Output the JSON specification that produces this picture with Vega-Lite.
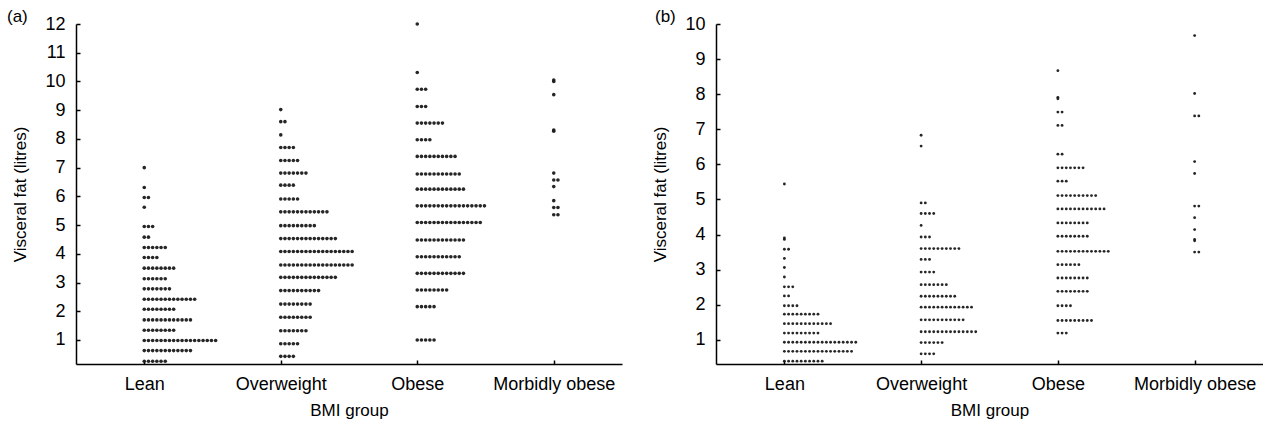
{
  "$schema": "https://vega.github.io/schema/vega-lite/v6.json",
  "description": "Visceral fat by BMI group, two dot plots",
  "padding": {"left": 7, "top": 8, "right": 0, "bottom": 12},
  "bounds": "flush",
  "spacing": 94,
  "config": {
    "view": {"stroke": null},
    "axis": {
      "grid": false,
      "domainColor": "#000",
      "domainWidth": 1.5,
      "tickColor": "#000",
      "tickWidth": 1.5,
      "tickSize": -4,
      "labelFont": "Liberation Sans",
      "labelFontSize": 18,
      "labelColor": "#000",
      "titleFont": "Liberation Sans",
      "titleFontSize": 17,
      "titleFontWeight": "normal",
      "titleColor": "#000"
    },
    "title": {"font": "Liberation Sans", "fontSize": 17, "fontWeight": "normal", "color": "#000"}
  },
  "datasets": {
    "a": [
      {"bmi":"Lean","fat":7},
      {"bmi":"Lean","fat":6.31},
      {"bmi":"Lean","fat":5.96},{"bmi":"Lean","fat":5.96},
      {"bmi":"Lean","fat":5.62},
      {"bmi":"Lean","fat":4.95},{"bmi":"Lean","fat":4.95},{"bmi":"Lean","fat":4.95},
      {"bmi":"Lean","fat":4.58},{"bmi":"Lean","fat":4.58},
      {"bmi":"Lean","fat":4.22},{"bmi":"Lean","fat":4.22},{"bmi":"Lean","fat":4.22},{"bmi":"Lean","fat":4.22},{"bmi":"Lean","fat":4.22},{"bmi":"Lean","fat":4.22},
      {"bmi":"Lean","fat":3.87},{"bmi":"Lean","fat":3.87},{"bmi":"Lean","fat":3.87},{"bmi":"Lean","fat":3.87},
      {"bmi":"Lean","fat":3.5},{"bmi":"Lean","fat":3.5},{"bmi":"Lean","fat":3.5},{"bmi":"Lean","fat":3.5},{"bmi":"Lean","fat":3.5},{"bmi":"Lean","fat":3.5},{"bmi":"Lean","fat":3.5},{"bmi":"Lean","fat":3.5},
      {"bmi":"Lean","fat":3.13},{"bmi":"Lean","fat":3.13},{"bmi":"Lean","fat":3.13},{"bmi":"Lean","fat":3.13},{"bmi":"Lean","fat":3.13},{"bmi":"Lean","fat":3.13},
      {"bmi":"Lean","fat":2.78},{"bmi":"Lean","fat":2.78},{"bmi":"Lean","fat":2.78},{"bmi":"Lean","fat":2.78},{"bmi":"Lean","fat":2.78},{"bmi":"Lean","fat":2.78},{"bmi":"Lean","fat":2.78},
      {"bmi":"Lean","fat":2.42},{"bmi":"Lean","fat":2.42},{"bmi":"Lean","fat":2.42},{"bmi":"Lean","fat":2.42},{"bmi":"Lean","fat":2.42},{"bmi":"Lean","fat":2.42},{"bmi":"Lean","fat":2.42},{"bmi":"Lean","fat":2.42},{"bmi":"Lean","fat":2.42},{"bmi":"Lean","fat":2.42},{"bmi":"Lean","fat":2.42},{"bmi":"Lean","fat":2.42},{"bmi":"Lean","fat":2.42},
      {"bmi":"Lean","fat":2.07},{"bmi":"Lean","fat":2.07},{"bmi":"Lean","fat":2.07},{"bmi":"Lean","fat":2.07},{"bmi":"Lean","fat":2.07},{"bmi":"Lean","fat":2.07},{"bmi":"Lean","fat":2.07},{"bmi":"Lean","fat":2.07},
      {"bmi":"Lean","fat":1.7},{"bmi":"Lean","fat":1.7},{"bmi":"Lean","fat":1.7},{"bmi":"Lean","fat":1.7},{"bmi":"Lean","fat":1.7},{"bmi":"Lean","fat":1.7},{"bmi":"Lean","fat":1.7},{"bmi":"Lean","fat":1.7},{"bmi":"Lean","fat":1.7},{"bmi":"Lean","fat":1.7},{"bmi":"Lean","fat":1.7},{"bmi":"Lean","fat":1.7},
      {"bmi":"Lean","fat":1.34},{"bmi":"Lean","fat":1.34},{"bmi":"Lean","fat":1.34},{"bmi":"Lean","fat":1.34},{"bmi":"Lean","fat":1.34},{"bmi":"Lean","fat":1.34},{"bmi":"Lean","fat":1.34},{"bmi":"Lean","fat":1.34},
      {"bmi":"Lean","fat":0.98},{"bmi":"Lean","fat":0.98},{"bmi":"Lean","fat":0.98},{"bmi":"Lean","fat":0.98},{"bmi":"Lean","fat":0.98},{"bmi":"Lean","fat":0.98},{"bmi":"Lean","fat":0.98},{"bmi":"Lean","fat":0.98},{"bmi":"Lean","fat":0.98},{"bmi":"Lean","fat":0.98},{"bmi":"Lean","fat":0.98},{"bmi":"Lean","fat":0.98},{"bmi":"Lean","fat":0.98},{"bmi":"Lean","fat":0.98},{"bmi":"Lean","fat":0.98},{"bmi":"Lean","fat":0.98},{"bmi":"Lean","fat":0.98},{"bmi":"Lean","fat":0.98},
      {"bmi":"Lean","fat":0.63},{"bmi":"Lean","fat":0.63},{"bmi":"Lean","fat":0.63},{"bmi":"Lean","fat":0.63},{"bmi":"Lean","fat":0.63},{"bmi":"Lean","fat":0.63},{"bmi":"Lean","fat":0.63},{"bmi":"Lean","fat":0.63},{"bmi":"Lean","fat":0.63},{"bmi":"Lean","fat":0.63},{"bmi":"Lean","fat":0.63},{"bmi":"Lean","fat":0.63},
      {"bmi":"Lean","fat":0.26},{"bmi":"Lean","fat":0.26},{"bmi":"Lean","fat":0.26},{"bmi":"Lean","fat":0.26},{"bmi":"Lean","fat":0.26},{"bmi":"Lean","fat":0.26},
      {"bmi":"Overweight","fat":9.02},
      {"bmi":"Overweight","fat":8.6},{"bmi":"Overweight","fat":8.6},
      {"bmi":"Overweight","fat":8.14},
      {"bmi":"Overweight","fat":7.7},{"bmi":"Overweight","fat":7.7},{"bmi":"Overweight","fat":7.7},{"bmi":"Overweight","fat":7.7},
      {"bmi":"Overweight","fat":7.25},{"bmi":"Overweight","fat":7.25},{"bmi":"Overweight","fat":7.25},{"bmi":"Overweight","fat":7.25},{"bmi":"Overweight","fat":7.25},
      {"bmi":"Overweight","fat":6.81},{"bmi":"Overweight","fat":6.81},{"bmi":"Overweight","fat":6.81},{"bmi":"Overweight","fat":6.81},{"bmi":"Overweight","fat":6.81},{"bmi":"Overweight","fat":6.81},{"bmi":"Overweight","fat":6.81},
      {"bmi":"Overweight","fat":6.39},{"bmi":"Overweight","fat":6.39},{"bmi":"Overweight","fat":6.39},{"bmi":"Overweight","fat":6.39},
      {"bmi":"Overweight","fat":5.91},{"bmi":"Overweight","fat":5.91},{"bmi":"Overweight","fat":5.91},{"bmi":"Overweight","fat":5.91},{"bmi":"Overweight","fat":5.91},
      {"bmi":"Overweight","fat":5.46},{"bmi":"Overweight","fat":5.46},{"bmi":"Overweight","fat":5.46},{"bmi":"Overweight","fat":5.46},{"bmi":"Overweight","fat":5.46},{"bmi":"Overweight","fat":5.46},{"bmi":"Overweight","fat":5.46},{"bmi":"Overweight","fat":5.46},{"bmi":"Overweight","fat":5.46},{"bmi":"Overweight","fat":5.46},{"bmi":"Overweight","fat":5.46},{"bmi":"Overweight","fat":5.46},
      {"bmi":"Overweight","fat":4.98},{"bmi":"Overweight","fat":4.98},{"bmi":"Overweight","fat":4.98},{"bmi":"Overweight","fat":4.98},{"bmi":"Overweight","fat":4.98},{"bmi":"Overweight","fat":4.98},{"bmi":"Overweight","fat":4.98},{"bmi":"Overweight","fat":4.98},{"bmi":"Overweight","fat":4.98},
      {"bmi":"Overweight","fat":4.53},{"bmi":"Overweight","fat":4.53},{"bmi":"Overweight","fat":4.53},{"bmi":"Overweight","fat":4.53},{"bmi":"Overweight","fat":4.53},{"bmi":"Overweight","fat":4.53},{"bmi":"Overweight","fat":4.53},{"bmi":"Overweight","fat":4.53},{"bmi":"Overweight","fat":4.53},{"bmi":"Overweight","fat":4.53},{"bmi":"Overweight","fat":4.53},{"bmi":"Overweight","fat":4.53},{"bmi":"Overweight","fat":4.53},{"bmi":"Overweight","fat":4.53},
      {"bmi":"Overweight","fat":4.08},{"bmi":"Overweight","fat":4.08},{"bmi":"Overweight","fat":4.08},{"bmi":"Overweight","fat":4.08},{"bmi":"Overweight","fat":4.08},{"bmi":"Overweight","fat":4.08},{"bmi":"Overweight","fat":4.08},{"bmi":"Overweight","fat":4.08},{"bmi":"Overweight","fat":4.08},{"bmi":"Overweight","fat":4.08},{"bmi":"Overweight","fat":4.08},{"bmi":"Overweight","fat":4.08},{"bmi":"Overweight","fat":4.08},{"bmi":"Overweight","fat":4.08},{"bmi":"Overweight","fat":4.08},{"bmi":"Overweight","fat":4.08},{"bmi":"Overweight","fat":4.08},{"bmi":"Overweight","fat":4.08},
      {"bmi":"Overweight","fat":3.61},{"bmi":"Overweight","fat":3.61},{"bmi":"Overweight","fat":3.61},{"bmi":"Overweight","fat":3.61},{"bmi":"Overweight","fat":3.61},{"bmi":"Overweight","fat":3.61},{"bmi":"Overweight","fat":3.61},{"bmi":"Overweight","fat":3.61},{"bmi":"Overweight","fat":3.61},{"bmi":"Overweight","fat":3.61},{"bmi":"Overweight","fat":3.61},{"bmi":"Overweight","fat":3.61},{"bmi":"Overweight","fat":3.61},{"bmi":"Overweight","fat":3.61},{"bmi":"Overweight","fat":3.61},{"bmi":"Overweight","fat":3.61},{"bmi":"Overweight","fat":3.61},{"bmi":"Overweight","fat":3.61},
      {"bmi":"Overweight","fat":3.18},{"bmi":"Overweight","fat":3.18},{"bmi":"Overweight","fat":3.18},{"bmi":"Overweight","fat":3.18},{"bmi":"Overweight","fat":3.18},{"bmi":"Overweight","fat":3.18},{"bmi":"Overweight","fat":3.18},{"bmi":"Overweight","fat":3.18},{"bmi":"Overweight","fat":3.18},{"bmi":"Overweight","fat":3.18},{"bmi":"Overweight","fat":3.18},{"bmi":"Overweight","fat":3.18},{"bmi":"Overweight","fat":3.18},{"bmi":"Overweight","fat":3.18},
      {"bmi":"Overweight","fat":2.72},{"bmi":"Overweight","fat":2.72},{"bmi":"Overweight","fat":2.72},{"bmi":"Overweight","fat":2.72},{"bmi":"Overweight","fat":2.72},{"bmi":"Overweight","fat":2.72},{"bmi":"Overweight","fat":2.72},{"bmi":"Overweight","fat":2.72},{"bmi":"Overweight","fat":2.72},{"bmi":"Overweight","fat":2.72},
      {"bmi":"Overweight","fat":2.25},{"bmi":"Overweight","fat":2.25},{"bmi":"Overweight","fat":2.25},{"bmi":"Overweight","fat":2.25},{"bmi":"Overweight","fat":2.25},{"bmi":"Overweight","fat":2.25},{"bmi":"Overweight","fat":2.25},{"bmi":"Overweight","fat":2.25},
      {"bmi":"Overweight","fat":1.79},{"bmi":"Overweight","fat":1.79},{"bmi":"Overweight","fat":1.79},{"bmi":"Overweight","fat":1.79},{"bmi":"Overweight","fat":1.79},{"bmi":"Overweight","fat":1.79},{"bmi":"Overweight","fat":1.79},{"bmi":"Overweight","fat":1.79},
      {"bmi":"Overweight","fat":1.32},{"bmi":"Overweight","fat":1.32},{"bmi":"Overweight","fat":1.32},{"bmi":"Overweight","fat":1.32},{"bmi":"Overweight","fat":1.32},{"bmi":"Overweight","fat":1.32},{"bmi":"Overweight","fat":1.32},
      {"bmi":"Overweight","fat":0.87},{"bmi":"Overweight","fat":0.87},{"bmi":"Overweight","fat":0.87},{"bmi":"Overweight","fat":0.87},{"bmi":"Overweight","fat":0.87},
      {"bmi":"Overweight","fat":0.43},{"bmi":"Overweight","fat":0.43},{"bmi":"Overweight","fat":0.43},{"bmi":"Overweight","fat":0.43},
      {"bmi":"Obese","fat":12},
      {"bmi":"Obese","fat":10.31},
      {"bmi":"Obese","fat":9.73},{"bmi":"Obese","fat":9.73},{"bmi":"Obese","fat":9.73},
      {"bmi":"Obese","fat":9.13},{"bmi":"Obese","fat":9.13},{"bmi":"Obese","fat":9.13},
      {"bmi":"Obese","fat":8.55},{"bmi":"Obese","fat":8.55},{"bmi":"Obese","fat":8.55},{"bmi":"Obese","fat":8.55},{"bmi":"Obese","fat":8.55},{"bmi":"Obese","fat":8.55},{"bmi":"Obese","fat":8.55},
      {"bmi":"Obese","fat":7.97},{"bmi":"Obese","fat":7.97},{"bmi":"Obese","fat":7.97},{"bmi":"Obese","fat":7.97},
      {"bmi":"Obese","fat":7.39},{"bmi":"Obese","fat":7.39},{"bmi":"Obese","fat":7.39},{"bmi":"Obese","fat":7.39},{"bmi":"Obese","fat":7.39},{"bmi":"Obese","fat":7.39},{"bmi":"Obese","fat":7.39},{"bmi":"Obese","fat":7.39},{"bmi":"Obese","fat":7.39},{"bmi":"Obese","fat":7.39},
      {"bmi":"Obese","fat":6.78},{"bmi":"Obese","fat":6.78},{"bmi":"Obese","fat":6.78},{"bmi":"Obese","fat":6.78},{"bmi":"Obese","fat":6.78},{"bmi":"Obese","fat":6.78},{"bmi":"Obese","fat":6.78},{"bmi":"Obese","fat":6.78},{"bmi":"Obese","fat":6.78},{"bmi":"Obese","fat":6.78},{"bmi":"Obese","fat":6.78},
      {"bmi":"Obese","fat":6.25},{"bmi":"Obese","fat":6.25},{"bmi":"Obese","fat":6.25},{"bmi":"Obese","fat":6.25},{"bmi":"Obese","fat":6.25},{"bmi":"Obese","fat":6.25},{"bmi":"Obese","fat":6.25},{"bmi":"Obese","fat":6.25},{"bmi":"Obese","fat":6.25},{"bmi":"Obese","fat":6.25},{"bmi":"Obese","fat":6.25},{"bmi":"Obese","fat":6.25},
      {"bmi":"Obese","fat":5.67},{"bmi":"Obese","fat":5.67},{"bmi":"Obese","fat":5.67},{"bmi":"Obese","fat":5.67},{"bmi":"Obese","fat":5.67},{"bmi":"Obese","fat":5.67},{"bmi":"Obese","fat":5.67},{"bmi":"Obese","fat":5.67},{"bmi":"Obese","fat":5.67},{"bmi":"Obese","fat":5.67},{"bmi":"Obese","fat":5.67},{"bmi":"Obese","fat":5.67},{"bmi":"Obese","fat":5.67},{"bmi":"Obese","fat":5.67},{"bmi":"Obese","fat":5.67},{"bmi":"Obese","fat":5.67},{"bmi":"Obese","fat":5.67},
      {"bmi":"Obese","fat":5.09},{"bmi":"Obese","fat":5.09},{"bmi":"Obese","fat":5.09},{"bmi":"Obese","fat":5.09},{"bmi":"Obese","fat":5.09},{"bmi":"Obese","fat":5.09},{"bmi":"Obese","fat":5.09},{"bmi":"Obese","fat":5.09},{"bmi":"Obese","fat":5.09},{"bmi":"Obese","fat":5.09},{"bmi":"Obese","fat":5.09},{"bmi":"Obese","fat":5.09},{"bmi":"Obese","fat":5.09},{"bmi":"Obese","fat":5.09},{"bmi":"Obese","fat":5.09},{"bmi":"Obese","fat":5.09},
      {"bmi":"Obese","fat":4.48},{"bmi":"Obese","fat":4.48},{"bmi":"Obese","fat":4.48},{"bmi":"Obese","fat":4.48},{"bmi":"Obese","fat":4.48},{"bmi":"Obese","fat":4.48},{"bmi":"Obese","fat":4.48},{"bmi":"Obese","fat":4.48},{"bmi":"Obese","fat":4.48},{"bmi":"Obese","fat":4.48},{"bmi":"Obese","fat":4.48},{"bmi":"Obese","fat":4.48},
      {"bmi":"Obese","fat":3.9},{"bmi":"Obese","fat":3.9},{"bmi":"Obese","fat":3.9},{"bmi":"Obese","fat":3.9},{"bmi":"Obese","fat":3.9},{"bmi":"Obese","fat":3.9},{"bmi":"Obese","fat":3.9},{"bmi":"Obese","fat":3.9},{"bmi":"Obese","fat":3.9},{"bmi":"Obese","fat":3.9},{"bmi":"Obese","fat":3.9},
      {"bmi":"Obese","fat":3.32},{"bmi":"Obese","fat":3.32},{"bmi":"Obese","fat":3.32},{"bmi":"Obese","fat":3.32},{"bmi":"Obese","fat":3.32},{"bmi":"Obese","fat":3.32},{"bmi":"Obese","fat":3.32},{"bmi":"Obese","fat":3.32},{"bmi":"Obese","fat":3.32},{"bmi":"Obese","fat":3.32},{"bmi":"Obese","fat":3.32},{"bmi":"Obese","fat":3.32},
      {"bmi":"Obese","fat":2.74},{"bmi":"Obese","fat":2.74},{"bmi":"Obese","fat":2.74},{"bmi":"Obese","fat":2.74},{"bmi":"Obese","fat":2.74},{"bmi":"Obese","fat":2.74},{"bmi":"Obese","fat":2.74},{"bmi":"Obese","fat":2.74},
      {"bmi":"Obese","fat":2.16},{"bmi":"Obese","fat":2.16},{"bmi":"Obese","fat":2.16},{"bmi":"Obese","fat":2.16},{"bmi":"Obese","fat":2.16},
      {"bmi":"Obese","fat":1},{"bmi":"Obese","fat":1},{"bmi":"Obese","fat":1},{"bmi":"Obese","fat":1},{"bmi":"Obese","fat":1},
      {"bmi":"Morbidly obese","fat":10},{"bmi":"Morbidly obese","fat":10.05},
      {"bmi":"Morbidly obese","fat":9.54},
      {"bmi":"Morbidly obese","fat":8.27},{"bmi":"Morbidly obese","fat":8.31},
      {"bmi":"Morbidly obese","fat":6.81},
      {"bmi":"Morbidly obese","fat":6.57},{"bmi":"Morbidly obese","fat":6.57},
      {"bmi":"Morbidly obese","fat":6.34},
      {"bmi":"Morbidly obese","fat":5.85},
      {"bmi":"Morbidly obese","fat":5.61},{"bmi":"Morbidly obese","fat":5.61},
      {"bmi":"Morbidly obese","fat":5.36},{"bmi":"Morbidly obese","fat":5.36}
    ],
    "b": [
      {"bmi":"Lean","fat":5.44},
      {"bmi":"Lean","fat":3.86},{"bmi":"Lean","fat":3.9},
      {"bmi":"Lean","fat":3.58},{"bmi":"Lean","fat":3.58},
      {"bmi":"Lean","fat":3.32},
      {"bmi":"Lean","fat":3.06},
      {"bmi":"Lean","fat":2.79},
      {"bmi":"Lean","fat":2.51},{"bmi":"Lean","fat":2.51},{"bmi":"Lean","fat":2.51},
      {"bmi":"Lean","fat":2.25},{"bmi":"Lean","fat":2.25},
      {"bmi":"Lean","fat":1.97},{"bmi":"Lean","fat":1.97},{"bmi":"Lean","fat":1.97},{"bmi":"Lean","fat":1.97},
      {"bmi":"Lean","fat":1.73},{"bmi":"Lean","fat":1.73},{"bmi":"Lean","fat":1.73},{"bmi":"Lean","fat":1.73},{"bmi":"Lean","fat":1.73},{"bmi":"Lean","fat":1.73},{"bmi":"Lean","fat":1.73},{"bmi":"Lean","fat":1.73},{"bmi":"Lean","fat":1.73},
      {"bmi":"Lean","fat":1.46},{"bmi":"Lean","fat":1.46},{"bmi":"Lean","fat":1.46},{"bmi":"Lean","fat":1.46},{"bmi":"Lean","fat":1.46},{"bmi":"Lean","fat":1.46},{"bmi":"Lean","fat":1.46},{"bmi":"Lean","fat":1.46},{"bmi":"Lean","fat":1.46},{"bmi":"Lean","fat":1.46},{"bmi":"Lean","fat":1.46},{"bmi":"Lean","fat":1.46},
      {"bmi":"Lean","fat":1.19},{"bmi":"Lean","fat":1.19},{"bmi":"Lean","fat":1.19},{"bmi":"Lean","fat":1.19},{"bmi":"Lean","fat":1.19},{"bmi":"Lean","fat":1.19},{"bmi":"Lean","fat":1.19},{"bmi":"Lean","fat":1.19},{"bmi":"Lean","fat":1.19},
      {"bmi":"Lean","fat":0.93},{"bmi":"Lean","fat":0.93},{"bmi":"Lean","fat":0.93},{"bmi":"Lean","fat":0.93},{"bmi":"Lean","fat":0.93},{"bmi":"Lean","fat":0.93},{"bmi":"Lean","fat":0.93},{"bmi":"Lean","fat":0.93},{"bmi":"Lean","fat":0.93},{"bmi":"Lean","fat":0.93},{"bmi":"Lean","fat":0.93},{"bmi":"Lean","fat":0.93},{"bmi":"Lean","fat":0.93},{"bmi":"Lean","fat":0.93},{"bmi":"Lean","fat":0.93},{"bmi":"Lean","fat":0.93},{"bmi":"Lean","fat":0.93},{"bmi":"Lean","fat":0.93},
      {"bmi":"Lean","fat":0.67},{"bmi":"Lean","fat":0.67},{"bmi":"Lean","fat":0.67},{"bmi":"Lean","fat":0.67},{"bmi":"Lean","fat":0.67},{"bmi":"Lean","fat":0.67},{"bmi":"Lean","fat":0.67},{"bmi":"Lean","fat":0.67},{"bmi":"Lean","fat":0.67},{"bmi":"Lean","fat":0.67},{"bmi":"Lean","fat":0.67},{"bmi":"Lean","fat":0.67},{"bmi":"Lean","fat":0.67},{"bmi":"Lean","fat":0.67},{"bmi":"Lean","fat":0.67},{"bmi":"Lean","fat":0.67},{"bmi":"Lean","fat":0.67},
      {"bmi":"Lean","fat":0.39},{"bmi":"Lean","fat":0.39},{"bmi":"Lean","fat":0.39},{"bmi":"Lean","fat":0.39},{"bmi":"Lean","fat":0.39},{"bmi":"Lean","fat":0.39},{"bmi":"Lean","fat":0.39},{"bmi":"Lean","fat":0.39},{"bmi":"Lean","fat":0.39},{"bmi":"Lean","fat":0.39},
      {"bmi":"Overweight","fat":6.83},
      {"bmi":"Overweight","fat":6.52},
      {"bmi":"Overweight","fat":4.9},{"bmi":"Overweight","fat":4.9},
      {"bmi":"Overweight","fat":4.6},{"bmi":"Overweight","fat":4.6},{"bmi":"Overweight","fat":4.6},{"bmi":"Overweight","fat":4.6},
      {"bmi":"Overweight","fat":4.26},
      {"bmi":"Overweight","fat":3.93},{"bmi":"Overweight","fat":3.93},{"bmi":"Overweight","fat":3.93},
      {"bmi":"Overweight","fat":3.6},{"bmi":"Overweight","fat":3.6},{"bmi":"Overweight","fat":3.6},{"bmi":"Overweight","fat":3.6},{"bmi":"Overweight","fat":3.6},{"bmi":"Overweight","fat":3.6},{"bmi":"Overweight","fat":3.6},{"bmi":"Overweight","fat":3.6},{"bmi":"Overweight","fat":3.6},{"bmi":"Overweight","fat":3.6},
      {"bmi":"Overweight","fat":3.29},{"bmi":"Overweight","fat":3.29},{"bmi":"Overweight","fat":3.29},
      {"bmi":"Overweight","fat":2.93},{"bmi":"Overweight","fat":2.93},{"bmi":"Overweight","fat":2.93},{"bmi":"Overweight","fat":2.93},
      {"bmi":"Overweight","fat":2.57},{"bmi":"Overweight","fat":2.57},{"bmi":"Overweight","fat":2.57},{"bmi":"Overweight","fat":2.57},{"bmi":"Overweight","fat":2.57},{"bmi":"Overweight","fat":2.57},{"bmi":"Overweight","fat":2.57},
      {"bmi":"Overweight","fat":2.24},{"bmi":"Overweight","fat":2.24},{"bmi":"Overweight","fat":2.24},{"bmi":"Overweight","fat":2.24},{"bmi":"Overweight","fat":2.24},{"bmi":"Overweight","fat":2.24},{"bmi":"Overweight","fat":2.24},{"bmi":"Overweight","fat":2.24},{"bmi":"Overweight","fat":2.24},
      {"bmi":"Overweight","fat":1.93},{"bmi":"Overweight","fat":1.93},{"bmi":"Overweight","fat":1.93},{"bmi":"Overweight","fat":1.93},{"bmi":"Overweight","fat":1.93},{"bmi":"Overweight","fat":1.93},{"bmi":"Overweight","fat":1.93},{"bmi":"Overweight","fat":1.93},{"bmi":"Overweight","fat":1.93},{"bmi":"Overweight","fat":1.93},{"bmi":"Overweight","fat":1.93},{"bmi":"Overweight","fat":1.93},{"bmi":"Overweight","fat":1.93},
      {"bmi":"Overweight","fat":1.57},{"bmi":"Overweight","fat":1.57},{"bmi":"Overweight","fat":1.57},{"bmi":"Overweight","fat":1.57},{"bmi":"Overweight","fat":1.57},{"bmi":"Overweight","fat":1.57},{"bmi":"Overweight","fat":1.57},{"bmi":"Overweight","fat":1.57},{"bmi":"Overweight","fat":1.57},{"bmi":"Overweight","fat":1.57},{"bmi":"Overweight","fat":1.57},
      {"bmi":"Overweight","fat":1.23},{"bmi":"Overweight","fat":1.23},{"bmi":"Overweight","fat":1.23},{"bmi":"Overweight","fat":1.23},{"bmi":"Overweight","fat":1.23},{"bmi":"Overweight","fat":1.23},{"bmi":"Overweight","fat":1.23},{"bmi":"Overweight","fat":1.23},{"bmi":"Overweight","fat":1.23},{"bmi":"Overweight","fat":1.23},{"bmi":"Overweight","fat":1.23},{"bmi":"Overweight","fat":1.23},{"bmi":"Overweight","fat":1.23},{"bmi":"Overweight","fat":1.23},
      {"bmi":"Overweight","fat":0.92},{"bmi":"Overweight","fat":0.92},{"bmi":"Overweight","fat":0.92},{"bmi":"Overweight","fat":0.92},{"bmi":"Overweight","fat":0.92},{"bmi":"Overweight","fat":0.92},
      {"bmi":"Overweight","fat":0.6},{"bmi":"Overweight","fat":0.6},{"bmi":"Overweight","fat":0.6},{"bmi":"Overweight","fat":0.6},
      {"bmi":"Obese","fat":8.67},
      {"bmi":"Obese","fat":7.87},{"bmi":"Obese","fat":7.91},
      {"bmi":"Obese","fat":7.49},{"bmi":"Obese","fat":7.49},
      {"bmi":"Obese","fat":7.11},{"bmi":"Obese","fat":7.11},
      {"bmi":"Obese","fat":6.29},{"bmi":"Obese","fat":6.29},
      {"bmi":"Obese","fat":5.9},{"bmi":"Obese","fat":5.9},{"bmi":"Obese","fat":5.9},{"bmi":"Obese","fat":5.9},{"bmi":"Obese","fat":5.9},{"bmi":"Obese","fat":5.9},{"bmi":"Obese","fat":5.9},
      {"bmi":"Obese","fat":5.52},{"bmi":"Obese","fat":5.52},{"bmi":"Obese","fat":5.52},
      {"bmi":"Obese","fat":5.11},{"bmi":"Obese","fat":5.11},{"bmi":"Obese","fat":5.11},{"bmi":"Obese","fat":5.11},{"bmi":"Obese","fat":5.11},{"bmi":"Obese","fat":5.11},{"bmi":"Obese","fat":5.11},{"bmi":"Obese","fat":5.11},{"bmi":"Obese","fat":5.11},{"bmi":"Obese","fat":5.11},
      {"bmi":"Obese","fat":4.73},{"bmi":"Obese","fat":4.73},{"bmi":"Obese","fat":4.73},{"bmi":"Obese","fat":4.73},{"bmi":"Obese","fat":4.73},{"bmi":"Obese","fat":4.73},{"bmi":"Obese","fat":4.73},{"bmi":"Obese","fat":4.73},{"bmi":"Obese","fat":4.73},{"bmi":"Obese","fat":4.73},{"bmi":"Obese","fat":4.73},{"bmi":"Obese","fat":4.73},
      {"bmi":"Obese","fat":4.33},{"bmi":"Obese","fat":4.33},{"bmi":"Obese","fat":4.33},{"bmi":"Obese","fat":4.33},{"bmi":"Obese","fat":4.33},{"bmi":"Obese","fat":4.33},{"bmi":"Obese","fat":4.33},{"bmi":"Obese","fat":4.33},
      {"bmi":"Obese","fat":3.95},{"bmi":"Obese","fat":3.95},{"bmi":"Obese","fat":3.95},{"bmi":"Obese","fat":3.95},{"bmi":"Obese","fat":3.95},{"bmi":"Obese","fat":3.95},{"bmi":"Obese","fat":3.95},{"bmi":"Obese","fat":3.95},
      {"bmi":"Obese","fat":3.52},{"bmi":"Obese","fat":3.52},{"bmi":"Obese","fat":3.52},{"bmi":"Obese","fat":3.52},{"bmi":"Obese","fat":3.52},{"bmi":"Obese","fat":3.52},{"bmi":"Obese","fat":3.52},{"bmi":"Obese","fat":3.52},{"bmi":"Obese","fat":3.52},{"bmi":"Obese","fat":3.52},{"bmi":"Obese","fat":3.52},{"bmi":"Obese","fat":3.52},{"bmi":"Obese","fat":3.52},
      {"bmi":"Obese","fat":3.14},{"bmi":"Obese","fat":3.14},{"bmi":"Obese","fat":3.14},{"bmi":"Obese","fat":3.14},{"bmi":"Obese","fat":3.14},{"bmi":"Obese","fat":3.14},
      {"bmi":"Obese","fat":2.76},{"bmi":"Obese","fat":2.76},{"bmi":"Obese","fat":2.76},{"bmi":"Obese","fat":2.76},{"bmi":"Obese","fat":2.76},{"bmi":"Obese","fat":2.76},{"bmi":"Obese","fat":2.76},{"bmi":"Obese","fat":2.76},
      {"bmi":"Obese","fat":2.38},{"bmi":"Obese","fat":2.38},{"bmi":"Obese","fat":2.38},{"bmi":"Obese","fat":2.38},{"bmi":"Obese","fat":2.38},{"bmi":"Obese","fat":2.38},{"bmi":"Obese","fat":2.38},{"bmi":"Obese","fat":2.38},
      {"bmi":"Obese","fat":1.97},{"bmi":"Obese","fat":1.97},{"bmi":"Obese","fat":1.97},{"bmi":"Obese","fat":1.97},
      {"bmi":"Obese","fat":1.55},{"bmi":"Obese","fat":1.55},{"bmi":"Obese","fat":1.55},{"bmi":"Obese","fat":1.55},{"bmi":"Obese","fat":1.55},{"bmi":"Obese","fat":1.55},{"bmi":"Obese","fat":1.55},{"bmi":"Obese","fat":1.55},{"bmi":"Obese","fat":1.55},
      {"bmi":"Obese","fat":1.19},{"bmi":"Obese","fat":1.19},{"bmi":"Obese","fat":1.19},
      {"bmi":"Morbidly obese","fat":9.67},
      {"bmi":"Morbidly obese","fat":8.02},
      {"bmi":"Morbidly obese","fat":7.38},{"bmi":"Morbidly obese","fat":7.38},
      {"bmi":"Morbidly obese","fat":6.08},
      {"bmi":"Morbidly obese","fat":5.74},
      {"bmi":"Morbidly obese","fat":4.81},{"bmi":"Morbidly obese","fat":4.81},
      {"bmi":"Morbidly obese","fat":4.48},
      {"bmi":"Morbidly obese","fat":4.14},
      {"bmi":"Morbidly obese","fat":3.82},{"bmi":"Morbidly obese","fat":3.86},
      {"bmi":"Morbidly obese","fat":3.5},{"bmi":"Morbidly obese","fat":3.5}
    ]
  },
  "hconcat": [
    {
      "width": 546,
      "height": 340,
      "data": {"name": "a"},
      "title": {"text": "(a)", "anchor": "start", "frame": "group", "dx": -69, "offset": -24, "baseline": "alphabetic"},
      "transform": [{"window": [{"op": "row_number", "as": "k"}], "groupby": ["bmi", "fat"]}],
      "mark": {"type": "circle", "size": 13, "color": "#1a1a1a", "opacity": 0.95},
      "encoding": {
        "x": {
          "field": "bmi",
          "type": "nominal",
          "sort": ["Lean", "Overweight", "Obese", "Morbidly obese"],
          "scale": {"type": "point", "padding": 0.5},
          "axis": {"title": "BMI group", "labelAngle": 0, "labelPadding": 15, "titlePadding": 9}
        },
        "xOffset": {"field": "k", "type": "quantitative", "scale": {"domain": [1, 21], "range": [0, 84]}},
        "y": {
          "field": "fat",
          "type": "quantitative",
          "scale": {"domain": [0.164, 12], "nice": false, "zero": false},
          "axis": {"title": "Visceral fat (litres)", "values": [1, 2, 3, 4, 5, 6, 7, 8, 9, 10, 11, 12], "labelPadding": 15, "titlePadding": 15}
        }
      }
    },
    {
      "width": 547,
      "height": 340,
      "data": {"name": "b"},
      "title": {"text": "(b)", "anchor": "start", "frame": "group", "dx": -61, "offset": -24, "baseline": "alphabetic"},
      "transform": [{"window": [{"op": "row_number", "as": "k"}], "groupby": ["bmi", "fat"]}],
      "mark": {"type": "circle", "size": 8, "color": "#1a1a1a", "opacity": 0.95},
      "encoding": {
        "x": {
          "field": "bmi",
          "type": "nominal",
          "sort": ["Lean", "Overweight", "Obese", "Morbidly obese"],
          "scale": {"type": "point", "padding": 0.5},
          "axis": {"title": "BMI group", "labelAngle": 0, "labelPadding": 15, "titlePadding": 9}
        },
        "xOffset": {"field": "k", "type": "quantitative", "scale": {"domain": [1, 21], "range": [0, 80]}},
        "y": {
          "field": "fat",
          "type": "quantitative",
          "scale": {"domain": [0.31, 10], "nice": false, "zero": false},
          "axis": {"title": "Visceral fat (litres)", "values": [1, 2, 3, 4, 5, 6, 7, 8, 9, 10], "labelPadding": 15, "titlePadding": 15}
        }
      }
    }
  ]
}
